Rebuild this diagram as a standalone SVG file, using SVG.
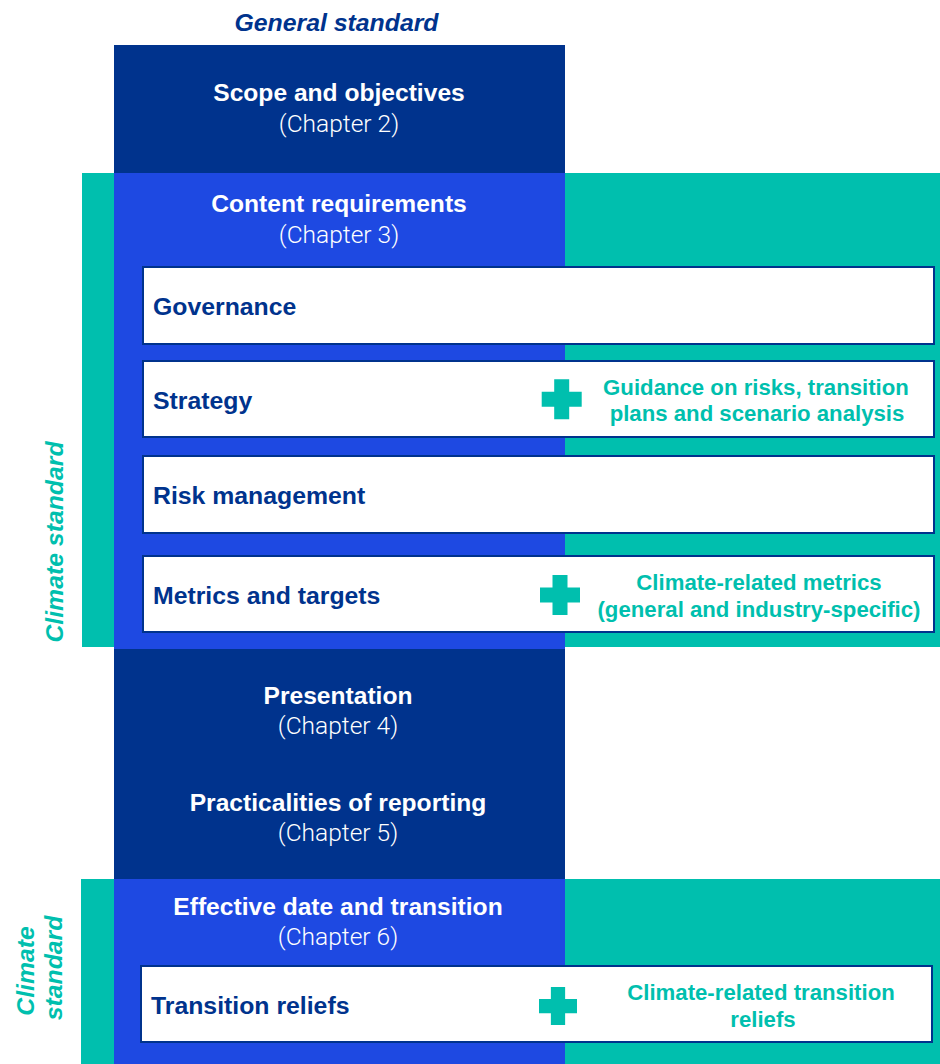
<svg xmlns="http://www.w3.org/2000/svg" width="940" height="1064" viewBox="0 0 940 1064">
<style>
.bg{fill:#ffffff}
.dark{fill:#00338D}
.blue{fill:#1E49E2}
.teal{fill:#00BFAE}
.box{fill:#ffffff;stroke:#00338D;stroke-width:2}
.h{font-family:"Liberation Sans",Arial,sans-serif;font-weight:700;font-size:24.6px;fill:#ffffff;text-anchor:middle}
.ch{font-family:Roboto,"Liberation Sans",Arial,sans-serif;font-weight:300;font-size:24.5px;fill:#ffffff;text-anchor:middle}
.lbl{font-family:"Liberation Sans",Arial,sans-serif;font-weight:700;font-size:24.8px;fill:#00338D}
.add{font-family:"Liberation Sans",Arial,sans-serif;font-weight:700;font-size:22.2px;fill:#00BFAE;text-anchor:middle}
.std{font-family:"Liberation Sans",Arial,sans-serif;font-weight:700;font-style:italic;font-size:24.8px;text-anchor:middle}
</style>
<defs>
<path id="plus" d="M-7.5,-20 h15 v12.5 h12.5 v15 h-12.5 v12.5 h-15 v-12.5 h-12.5 v-15 h12.5 z"/>
</defs>
<rect class="bg" x="0" y="0" width="940" height="1064"/>

<g id="backgrounds">
<rect class="teal" x="82" y="173" width="858" height="474"/>
<rect class="teal" x="81" y="879" width="859" height="185"/>
<rect class="dark" x="114" y="45" width="451" height="128"/>
<rect class="blue" x="114" y="173" width="451" height="476"/>
<rect class="dark" x="114" y="649" width="451" height="230"/>
<rect class="blue" x="114" y="879" width="451" height="185"/>
</g>

<g id="general-standard-label">
<text class="std" x="336.5" y="31" fill="#00338D">General standard</text>
</g>
<g id="climate-standard-label-1">
<text class="std" transform="translate(63,542) rotate(-90)" fill="#00BFAE">Climate standard</text>
</g>
<g id="climate-standard-label-2">
<text class="std" transform="translate(34,971) rotate(-90)" fill="#00BFAE">Climate</text>
<text class="std" transform="translate(62,968) rotate(-90)" fill="#00BFAE">standard</text>
</g>

<g id="scope">
<text class="h" x="339" y="101">Scope and objectives</text>
<text class="ch" x="339" y="132">(Chapter 2)</text>
</g>
<g id="content">
<text class="h" x="339" y="212">Content requirements</text>
<text class="ch" x="339" y="243">(Chapter 3)</text>
</g>

<g id="governance">
<rect class="box" x="143" y="267" width="791" height="77"/>
<text class="lbl" x="153" y="315">Governance</text>
</g>
<g id="strategy">
<rect class="box" x="143" y="361" width="791" height="76"/>
<text class="lbl" x="153" y="409">Strategy</text>
<use href="#plus" x="561.7" y="399.3" fill="#00BFAE"/>
<text class="add" x="756" y="395">Guidance on risks, transition</text>
<text class="add" x="757" y="421">plans and scenario analysis</text>
</g>
<g id="risk">
<rect class="box" x="143" y="456" width="791" height="77"/>
<text class="lbl" x="153" y="504">Risk management</text>
</g>
<g id="metrics">
<rect class="box" x="143" y="556" width="791" height="76"/>
<text class="lbl" x="153" y="604">Metrics and targets</text>
<use href="#plus" x="560" y="595" fill="#00BFAE"/>
<text class="add" x="759" y="590">Climate-related metrics</text>
<text class="add" x="759" y="617">(general and industry-specific)</text>
</g>

<g id="presentation">
<text class="h" x="338" y="704">Presentation</text>
<text class="ch" x="338" y="734">(Chapter 4)</text>
</g>
<g id="practicalities">
<text class="h" x="338" y="811">Practicalities of reporting</text>
<text class="ch" x="338" y="841">(Chapter 5)</text>
</g>
<g id="effective">
<text class="h" x="338" y="915">Effective date and transition</text>
<text class="ch" x="338" y="945">(Chapter 6)</text>
</g>
<g id="transition-reliefs">
<rect class="box" x="141" y="966" width="791" height="76"/>
<text class="lbl" x="151" y="1014">Transition reliefs</text>
<use href="#plus" transform="translate(558,1006) scale(0.95)" fill="#00BFAE"/>
<text class="add" x="761" y="1000">Climate-related transition</text>
<text class="add" x="763" y="1027">reliefs</text>
</g>

<g id="connectors"></g>
</svg>
